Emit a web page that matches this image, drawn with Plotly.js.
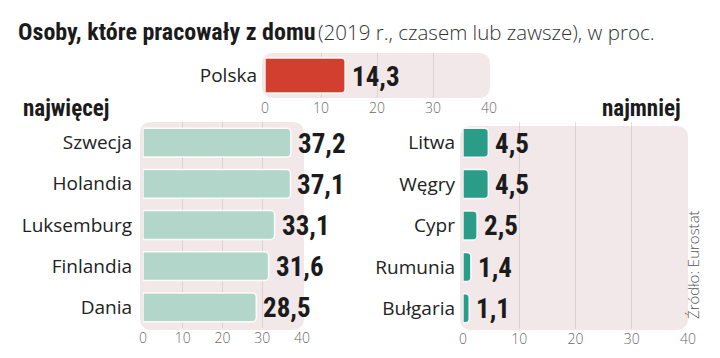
<!DOCTYPE html>
<html>
<head>
<meta charset="utf-8">
<script src="https://cdn.plot.ly/plotly-3.0.1.min.js"></script>
<style>html,body{margin:0;padding:0;background:#fff;}#chart{width:720px;height:358px;}</style>
</head>
<body>
<div id="chart"></div>
<script>
// Data
const polandLabel = ["Polska"];
const polandValue = [14.3];
const mostCountries = ["Szwecja", "Holandia", "Luksemburg", "Finlandia", "Dania"];
const mostValues = [37.2, 37.1, 33.1, 31.6, 28.5];
const leastCountries = ["Litwa", "Węgry", "Cypr", "Rumunia", "Bułgaria"];
const leastValues = [4.5, 4.5, 2.5, 1.4, 1.1];
const xTicks = [0, 10, 20, 30, 40];

const NARROW = "Liberation Sans Narrow, Roboto Condensed, DejaVu Sans Condensed, sans-serif";
const SANS = "Open Sans, Noto Sans, sans-serif";
const fmt = v => v.toFixed(1).replace('.', ',');
const px = (x) => x / 720;
const py = (y) => 1 - y / 358;

function barTrace(cats, vals, color, xa, ya, w) {
  return {
    type: 'bar', orientation: 'h', x: vals, y: cats, xaxis: xa, yaxis: ya,
    width: w, hoverinfo: 'skip',
    marker: {color: color, cornerradius: 4, line: {color: 'rgba(255,255,255,0.9)', width: 1.5}}
  };
}

const traces = [
  barTrace(polandLabel, polandValue, '#d23f2f', 'x', 'y', 0.78),
  barTrace(mostCountries, mostValues, '#b2d7ca', 'x2', 'y2', 0.7),
  barTrace(leastCountries, leastValues, '#2a9c87', 'x3', 'y3', 0.7)
];

function xAxis(domain, anchor) {
  return {
    domain: domain, anchor: anchor, range: [0, 40], tickvals: xTicks,
    showgrid: true, gridcolor: 'rgba(205,180,182,0.45)', gridwidth: 1,
    zeroline: false, showline: false, ticks: '', fixedrange: true,
    tickfont: {family: SANS, size: 14, color: '#6a6a6a', weight: 300}
  };
}
function yAxis(domain, anchor, standoff) {
  return {
    domain: domain, anchor: anchor, autorange: 'reversed', type: 'category',
    showgrid: false, zeroline: false, showline: false, ticks: '',
    ticklabelstandoff: standoff, fixedrange: true,
    tickfont: {family: SANS, size: 19, color: '#222'}
  };
}

function roundRect(x0, y0, x1, y1, r) {
  const X = v => px(v), Y = v => py(v);
  return 'M ' + X(x0 + r) + ' ' + Y(y0) +
    ' L ' + X(x1 - r) + ' ' + Y(y0) +
    ' Q ' + X(x1) + ' ' + Y(y0) + ' ' + X(x1) + ' ' + Y(y0 + r) +
    ' L ' + X(x1) + ' ' + Y(y1 - r) +
    ' Q ' + X(x1) + ' ' + Y(y1) + ' ' + X(x1 - r) + ' ' + Y(y1) +
    ' L ' + X(x0 + r) + ' ' + Y(y1) +
    ' Q ' + X(x0) + ' ' + Y(y1) + ' ' + X(x0) + ' ' + Y(y1 - r) +
    ' L ' + X(x0) + ' ' + Y(y0 + r) +
    ' Q ' + X(x0) + ' ' + Y(y0) + ' ' + X(x0 + r) + ' ' + Y(y0) + ' Z';
}

const bg = '#f3e8e9';
const shapes = [
  {type: 'path', xref: 'paper', yref: 'paper', path: roundRect(262, 53, 490, 98, 12), fillcolor: bg, line: {width: 0}, layer: 'below'},
  {type: 'path', xref: 'paper', yref: 'paper', path: roundRect(140, 122, 304, 330, 12), fillcolor: bg, line: {width: 0}, layer: 'below'},
  {type: 'path', xref: 'paper', yref: 'paper', path: roundRect(460, 126, 688, 330, 12), fillcolor: bg, line: {width: 0}, layer: 'below'}
];

const annotations = [];
function addValues(cats, vals, xr, yr) {
  cats.forEach((c, i) => annotations.push({
    x: vals[i], y: c, xref: xr, yref: yr, text: fmt(vals[i]), showarrow: false,
    xanchor: 'left', yanchor: 'middle', xshift: 5, yshift: -1,
    font: {family: NARROW, size: 27, color: '#1b1b1b', weight: 700}
  }));
}
addValues(polandLabel, polandValue, 'x', 'y');
addValues(mostCountries, mostValues, 'x2', 'y2');
addValues(leastCountries, leastValues, 'x3', 'y3');

annotations.push(
  {xref: 'paper', yref: 'paper', x: px(16), y: py(32), xanchor: 'left', yanchor: 'middle', showarrow: false,
   text: '<b>Osoby, które pracowały z domu</b>', font: {family: NARROW, size: 24, color: '#1b1b1b'}},
  {xref: 'paper', yref: 'paper', x: px(316), y: py(32), xanchor: 'left', yanchor: 'middle', showarrow: false,
   text: '(2019 r., czasem lub zawsze), w proc.', font: {family: SANS, size: 20.5, color: '#333', weight: 300}},
  {xref: 'paper', yref: 'paper', x: px(21), y: py(108), xanchor: 'left', yanchor: 'middle', showarrow: false,
   text: '<b>najwięcej</b>', font: {family: NARROW, size: 23, color: '#1b1b1b'}},
  {xref: 'paper', yref: 'paper', x: px(683), y: py(108), xanchor: 'right', yanchor: 'middle', showarrow: false,
   text: '<b>najmniej</b>', font: {family: NARROW, size: 23, color: '#1b1b1b'}},
  {xref: 'paper', yref: 'paper', x: px(693), y: py(265), xanchor: 'center', yanchor: 'middle', showarrow: false,
   textangle: -90, text: 'Źródło: Eurostat', font: {family: SANS, size: 15, color: '#555', weight: 300}}
);

const layout = {
  width: 720, height: 358, margin: {l: 0, r: 0, t: 0, b: 0},
  paper_bgcolor: '#fff', plot_bgcolor: 'rgba(0,0,0,0)', showlegend: false,
  xaxis: xAxis([px(265), px(489)], 'y'),
  yaxis: yAxis([py(98), py(53)], 'x', 7),
  xaxis2: xAxis([px(143), px(302)], 'y2'),
  yaxis2: yAxis([py(328), py(122)], 'x2', 10),
  xaxis3: xAxis([px(463), px(688)], 'y3'),
  yaxis3: yAxis([py(329), py(122)], 'x3', 7),
  shapes: shapes, annotations: annotations
};

Plotly.newPlot('chart', traces, layout, {staticPlot: true, displayModeBar: false});
</script>
</body>
</html>
